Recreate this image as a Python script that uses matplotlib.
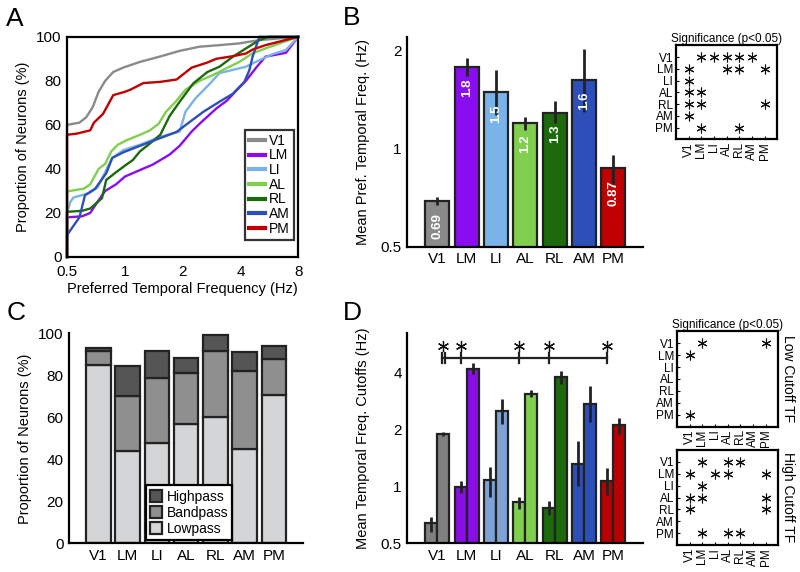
import numpy as np
import matplotlib
matplotlib.use("Agg")
import matplotlib.pyplot as plt
from matplotlib.ticker import NullLocator

plt.rcParams["font.family"] = ["Liberation Sans", "DejaVu Sans"]

areas = ["V1", "LM", "LI", "AL", "RL", "AM", "PM"]
area_colors = ["#8a8a8a", "#8a0cf0", "#7ab2ea", "#80cf4e", "#1c6a0c", "#2d4fb8", "#c00000"]
d_colors = ["#808080", "#8a0ce6", "#7ea2d6", "#80cf4e", "#1c6a0c", "#2d4fb8", "#bb0000"]

# panel A: cumulative distributions of preferred TF (Hz, %)
v1_tf = [0.5, 0.5, 0.58, 0.63, 0.68, 0.73, 0.79, 0.87, 0.98, 1.2, 1.52, 1.93, 2.45, 3.11, 3.95, 5.02, 8]
v1_pct = [0, 60, 61, 63.5, 68, 75, 80, 84, 86, 88.6, 91, 93.6, 95.5, 96.2, 97, 98.5, 100]
lm_tf = [0.5, 0.5, 0.6, 0.66, 0.72, 0.79, 0.9, 1.0, 1.2, 1.4, 1.71, 1.93, 2.23, 2.45, 3.0, 3.4, 3.8, 4.27, 4.83, 5.4, 6.9, 8]
lm_pct = [0, 18, 18.5, 20, 25, 30, 33, 36.5, 39.5, 42, 46.5, 50.5, 57, 60.5, 67.5, 71, 75.5, 80, 86, 91, 92.7, 100]
li_tf = [0.5, 0.5, 0.52, 0.54, 0.65, 0.72, 0.8, 0.86, 0.98, 1.2, 1.52, 1.93, 2.07, 2.33, 2.78, 3.11, 3.66, 4.27, 5.02, 5.88, 6.9, 8]
li_pct = [0, 20, 25, 27, 29, 31.5, 39.5, 45, 48.5, 51, 54.5, 57, 66, 72, 78.8, 83.5, 85, 86.4, 89.4, 92.1, 94, 100]
al_tf = [0.5, 0.5, 0.61, 0.66, 0.73, 0.79, 0.85, 0.92, 1.02, 1.2, 1.35, 1.5, 1.64, 1.84, 2.07, 2.45, 2.87, 3.5, 3.95, 4.6, 5.4, 8]
al_pct = [0, 29.8, 31, 33, 40, 42.3, 48, 51, 53, 55.5, 57.5, 60.5, 66, 70.5, 76, 80, 82.6, 86.4, 88.6, 92.4, 94.7, 100]
rl_tf = [0.5, 0.5, 0.6, 0.66, 0.76, 0.8, 0.9, 1.02, 1.1, 1.2, 1.35, 1.53, 1.71, 1.93, 2.27, 2.69, 3.11, 3.66, 4.27, 5.02, 5.6, 8]
rl_pct = [0, 20.5, 21, 22, 26.7, 35, 38.5, 42, 44, 48, 51.5, 55.5, 64, 70.5, 78.8, 84, 86.4, 91, 94.7, 98.5, 100, 100]
am_tf = [0.5, 0.5, 0.58, 0.62, 0.7, 0.8, 0.86, 0.98, 1.2, 1.53, 1.86, 2.23, 2.57, 3.11, 3.66, 4.19, 4.45, 4.63, 5.02, 8]
am_pct = [0, 10, 18, 28, 31, 38, 45, 47.5, 50.5, 54, 56.8, 62, 66, 70.5, 74.2, 79.5, 84.8, 91, 100, 100]
pm_tf = [0.5, 0.5, 0.56, 0.66, 0.69, 0.77, 0.87, 1.0, 1.07, 1.25, 1.52, 1.86, 2.23, 2.69, 2.99, 3.66, 4.27, 4.63, 5.4, 8]
pm_pct = [0, 55.5, 56, 57.5, 61, 65, 73.5, 75, 76, 79, 79.5, 80.6, 86, 88.3, 90, 91.2, 92.4, 94.2, 96.2, 100]

# panel B: mean preferred TF (Hz) with error bar ends
pref_tf = [0.69, 1.78, 1.49, 1.2, 1.29, 1.63, 0.87]
pref_err_lo = [0.67, 1.68, 1.27, 1.14, 1.2, 1.3, 0.78]
pref_err_hi = [0.71, 1.9, 1.75, 1.25, 1.4, 2.03, 0.96]

# panel C: filter class proportions (%)
lowpass = [85, 44, 48, 57, 60, 45, 70.5]
bandpass = [6.6, 26, 30.5, 24, 31.5, 37, 17.5]
highpass = [1.3, 14.3, 13.2, 7.4, 7.5, 9.3, 6.0]

# panel D: low / high TF cutoffs (Hz)
low_cut = [0.64, 0.99, 1.08, 0.83, 0.77, 1.31, 1.07]
low_cut_lo = [0.575, 0.92, 0.88, 0.76, 0.705, 1.0, 0.9]
low_cut_hi = [0.69, 1.06, 1.27, 0.88, 0.84, 1.73, 1.25]
high_cut = [1.88, 4.17, 2.49, 3.08, 3.77, 2.73, 2.11]
high_cut_lo = [1.83, 3.9, 2.12, 2.95, 3.48, 2.18, 1.88]
high_cut_hi = [1.94, 4.44, 2.89, 3.2, 4.05, 3.37, 2.3]
bracket_areas = ["V1", "LM", "AL", "RL", "PM"]

# significance matrices (row, column)
sig_pref = [("V1", "LM"), ("V1", "LI"), ("V1", "AL"), ("V1", "RL"), ("V1", "AM"),
            ("LM", "V1"), ("LM", "AL"), ("LM", "RL"), ("LM", "PM"), ("LI", "V1"),
            ("AL", "V1"), ("AL", "LM"), ("RL", "V1"), ("RL", "LM"), ("RL", "PM"),
            ("AM", "V1"), ("PM", "LM"), ("PM", "RL")]
sig_low = [("V1", "LM"), ("V1", "PM"), ("LM", "V1"), ("PM", "V1")]
sig_high = [("V1", "LM"), ("V1", "AL"), ("V1", "RL"), ("LM", "V1"), ("LM", "LI"),
            ("LM", "AL"), ("LM", "PM"), ("LI", "LM"), ("AL", "V1"), ("AL", "LM"),
            ("AL", "PM"), ("RL", "V1"), ("RL", "PM"), ("PM", "LM"), ("PM", "AL"),
            ("PM", "RL")]

STAR = (6, 2, 0)
LW = 1.6
TICK_FS = 11
LABEL_FS = 10.5


def style_spines(ax, box=False):
    for s in ["left", "bottom", "top", "right"]:
        ax.spines[s].set_linewidth(LW)
        if not box and s in ("top", "right"):
            ax.spines[s].set_visible(False)
    ax.tick_params(length=0, labelsize=TICK_FS, pad=4)


def sig_matrix(ax, pairs, title=None, side=None):
    idx = {a: i + 1 for i, a in enumerate(areas)}
    for r, c in pairs:
        ax.plot(idx[c], idx[r], marker=STAR, ms=7, mew=0.8, color="#111111")
    ax.set_xlim(0, 8)
    ax.set_ylim(8, 0)
    ax.set_xticks(range(1, 8))
    ax.set_yticks(range(1, 8))
    ax.set_xticklabels(areas, rotation=90, fontsize=8.5)
    ax.set_yticklabels(areas, fontsize=8.5)
    ax.tick_params(direction="in", length=2.5, width=0.8, pad=2)
    for s in ax.spines.values():
        s.set_linewidth(LW)
    if title:
        ax.set_title(title, fontsize=8.5, pad=2)
    if side:
        ax.text(1.03, 0.5, side, rotation=270, ha="left", va="center",
                fontsize=10, transform=ax.transAxes)


fig = plt.figure(figsize=(8, 5.72), dpi=100)
x = np.arange(len(areas))

# ---- A
axA = fig.add_axes([0.0838, 0.5507, 0.289, 0.385])
curves = [(v1_tf, v1_pct), (lm_tf, lm_pct), (li_tf, li_pct), (al_tf, al_pct),
          (rl_tf, rl_pct), (am_tf, am_pct), (pm_tf, pm_pct)]
for (tf, pct), col, name in zip(curves, area_colors, areas):
    axA.plot(tf, pct, color=col, lw=1.7, label=name, clip_on=False)
axA.set_xscale("log", base=2)
axA.set_xlim(0.5, 8)
axA.set_ylim(0, 100)
axA.set_xticks([0.5, 1, 2, 4, 8])
axA.set_xticklabels(["0.5", "1", "2", "4", "8"])
axA.xaxis.set_minor_locator(NullLocator())
axA.set_yticks([0, 20, 40, 60, 80, 100])
style_spines(axA, box=True)
axA.tick_params(axis="x", pad=6)
axA.set_xlabel("Preferred Temporal Frequency (Hz)", fontsize=LABEL_FS, labelpad=2)
axA.set_ylabel("Proportion of Neurons (%)", fontsize=LABEL_FS)
axA.yaxis.set_label_coords(-0.16, 0.5)
leg = axA.legend(loc="lower right", bbox_to_anchor=(0.98, 0.077), borderaxespad=0,
                 fontsize=10, handlelength=1.1, handletextpad=0.3, labelspacing=0.05,
                 fancybox=False, borderpad=0.3)
leg.get_frame().set_edgecolor("k")
leg.get_frame().set_linewidth(LW)
for h in leg.get_lines():
    h.set_linewidth(3)

# ---- B
axB = fig.add_axes([0.509, 0.5687, 0.295, 0.367])
axB.set_yscale("log", base=2)
axB.bar(x, np.array(pref_tf) - 0.4, bottom=0.4, width=0.82, color=area_colors,
        edgecolor="#222222", linewidth=LW)
axB.errorbar(x, pref_tf, yerr=[np.array(pref_tf) - pref_err_lo, np.array(pref_err_hi) - pref_tf],
             fmt="none", ecolor="#222222", elinewidth=2, capsize=0)
for xi, v in zip(x, pref_tf):
    axB.text(xi, v * 0.92, f"{v:.2g}", rotation=90, ha="center", va="top",
             color="white", fontsize=9.5, fontweight="bold")
axB.set_xlim(-1.03, 7.02)
axB.set_ylim(0.5, 2.21)
axB.set_yticks([0.5, 1, 2])
axB.set_yticklabels(["0.5", "1", "2"])
axB.yaxis.set_minor_locator(NullLocator())
axB.set_xticks(x)
axB.set_xticklabels(areas)
style_spines(axB)
axB.set_ylabel("Mean Pref. Temporal Freq. (Hz)", fontsize=LABEL_FS)
axB.yaxis.set_label_coords(-0.157, 0.5)

axBs = fig.add_axes([0.845, 0.7565, 0.1266, 0.1643])
sig_matrix(axBs, sig_pref, title="Significance (p<0.05)")

# ---- C
axC = fig.add_axes([0.0863, 0.0502, 0.2925, 0.367])
bot = np.zeros(len(areas))
for vals, col, name in [(lowpass, "#d4d5d7", "Lowpass"), (bandpass, "#8f8f8f", "Bandpass"),
                        (highpass, "#555555", "Highpass")]:
    axC.bar(x, vals, bottom=bot, width=0.84, color=col, edgecolor="#222222",
            linewidth=LW, label=name)
    bot = bot + np.array(vals)
axC.set_xlim(-1, 7)
axC.set_ylim(0, 100)
axC.set_yticks([0, 20, 40, 60, 80, 100])
axC.set_xticks(x)
axC.set_xticklabels(areas)
style_spines(axC)
axC.set_ylabel("Proportion of Neurons (%)", fontsize=LABEL_FS)
axC.yaxis.set_label_coords(-0.158, 0.5)
hd, lb = axC.get_legend_handles_labels()
legC = axC.legend(hd[::-1], lb[::-1], loc="lower left", bbox_to_anchor=(0.328, 0.016),
                  borderaxespad=0, fontsize=10, handlelength=0.9, handleheight=0.9,
                  handletextpad=0.3, labelspacing=0.15, fancybox=False, framealpha=1,
                  borderpad=0.3)
legC.get_frame().set_edgecolor("k")
legC.get_frame().set_linewidth(LW)

# ---- D
axD = fig.add_axes([0.509, 0.0502, 0.295, 0.367])
axD.set_yscale("log", base=2)
off = 0.205
for vals, lo, hi, sgn in [(low_cut, low_cut_lo, low_cut_hi, -1),
                          (high_cut, high_cut_lo, high_cut_hi, 1)]:
    v = np.array(vals)
    axD.bar(x + sgn * off, v - 0.4, bottom=0.4, width=0.41, color=d_colors,
            edgecolor="#222222", linewidth=LW)
    axD.errorbar(x + sgn * off, v, yerr=[v - lo, np.array(hi) - v], fmt="none",
                 ecolor="#222222", elinewidth=2, capsize=0)
# significance bracket
bx = [areas.index(a) - off for a in bracket_areas]
bx[0] = areas.index("V1") + off
axD.plot([0.15, bx[-1]], [4.74, 4.74], color="#222222", lw=LW, clip_on=False)
for tx in [0.15, 0.26] + bx[1:]:
    axD.plot([tx, tx], [4.45, 5.05], color="#222222", lw=LW, clip_on=False)
axD.plot(bx, [5.5] * len(bx), ls="none", marker=STAR, ms=8, mew=0.9, color="#111111",
         clip_on=False)
axD.set_xlim(-1.03, 7.02)
axD.set_ylim(0.5, 6.4)
axD.set_yticks([0.5, 1, 2, 4])
axD.set_yticklabels(["0.5", "1", "2", "4"])
axD.yaxis.set_minor_locator(NullLocator())
axD.set_xticks(x)
axD.set_xticklabels(areas)
style_spines(axD)
axD.set_ylabel("Mean Temporal Freq. Cutoffs (Hz)", fontsize=LABEL_FS)
axD.yaxis.set_label_coords(-0.157, 0.5)

axDl = fig.add_axes([0.846, 0.254, 0.127, 0.167])
sig_matrix(axDl, sig_low, title="Significance (p<0.05)", side="Low Cutoff TF")
axDh = fig.add_axes([0.846, 0.0472, 0.127, 0.166])
sig_matrix(axDh, sig_high, side="High Cutoff TF")

for lbl, fx, fy in [("A", 0.008, 0.988), ("B", 0.428, 0.990), ("C", 0.008, 0.473), ("D", 0.428, 0.473)]:
    fig.text(fx, fy, lbl, fontsize=19, va="top", ha="left")

fig.savefig("out.png", dpi=100)
